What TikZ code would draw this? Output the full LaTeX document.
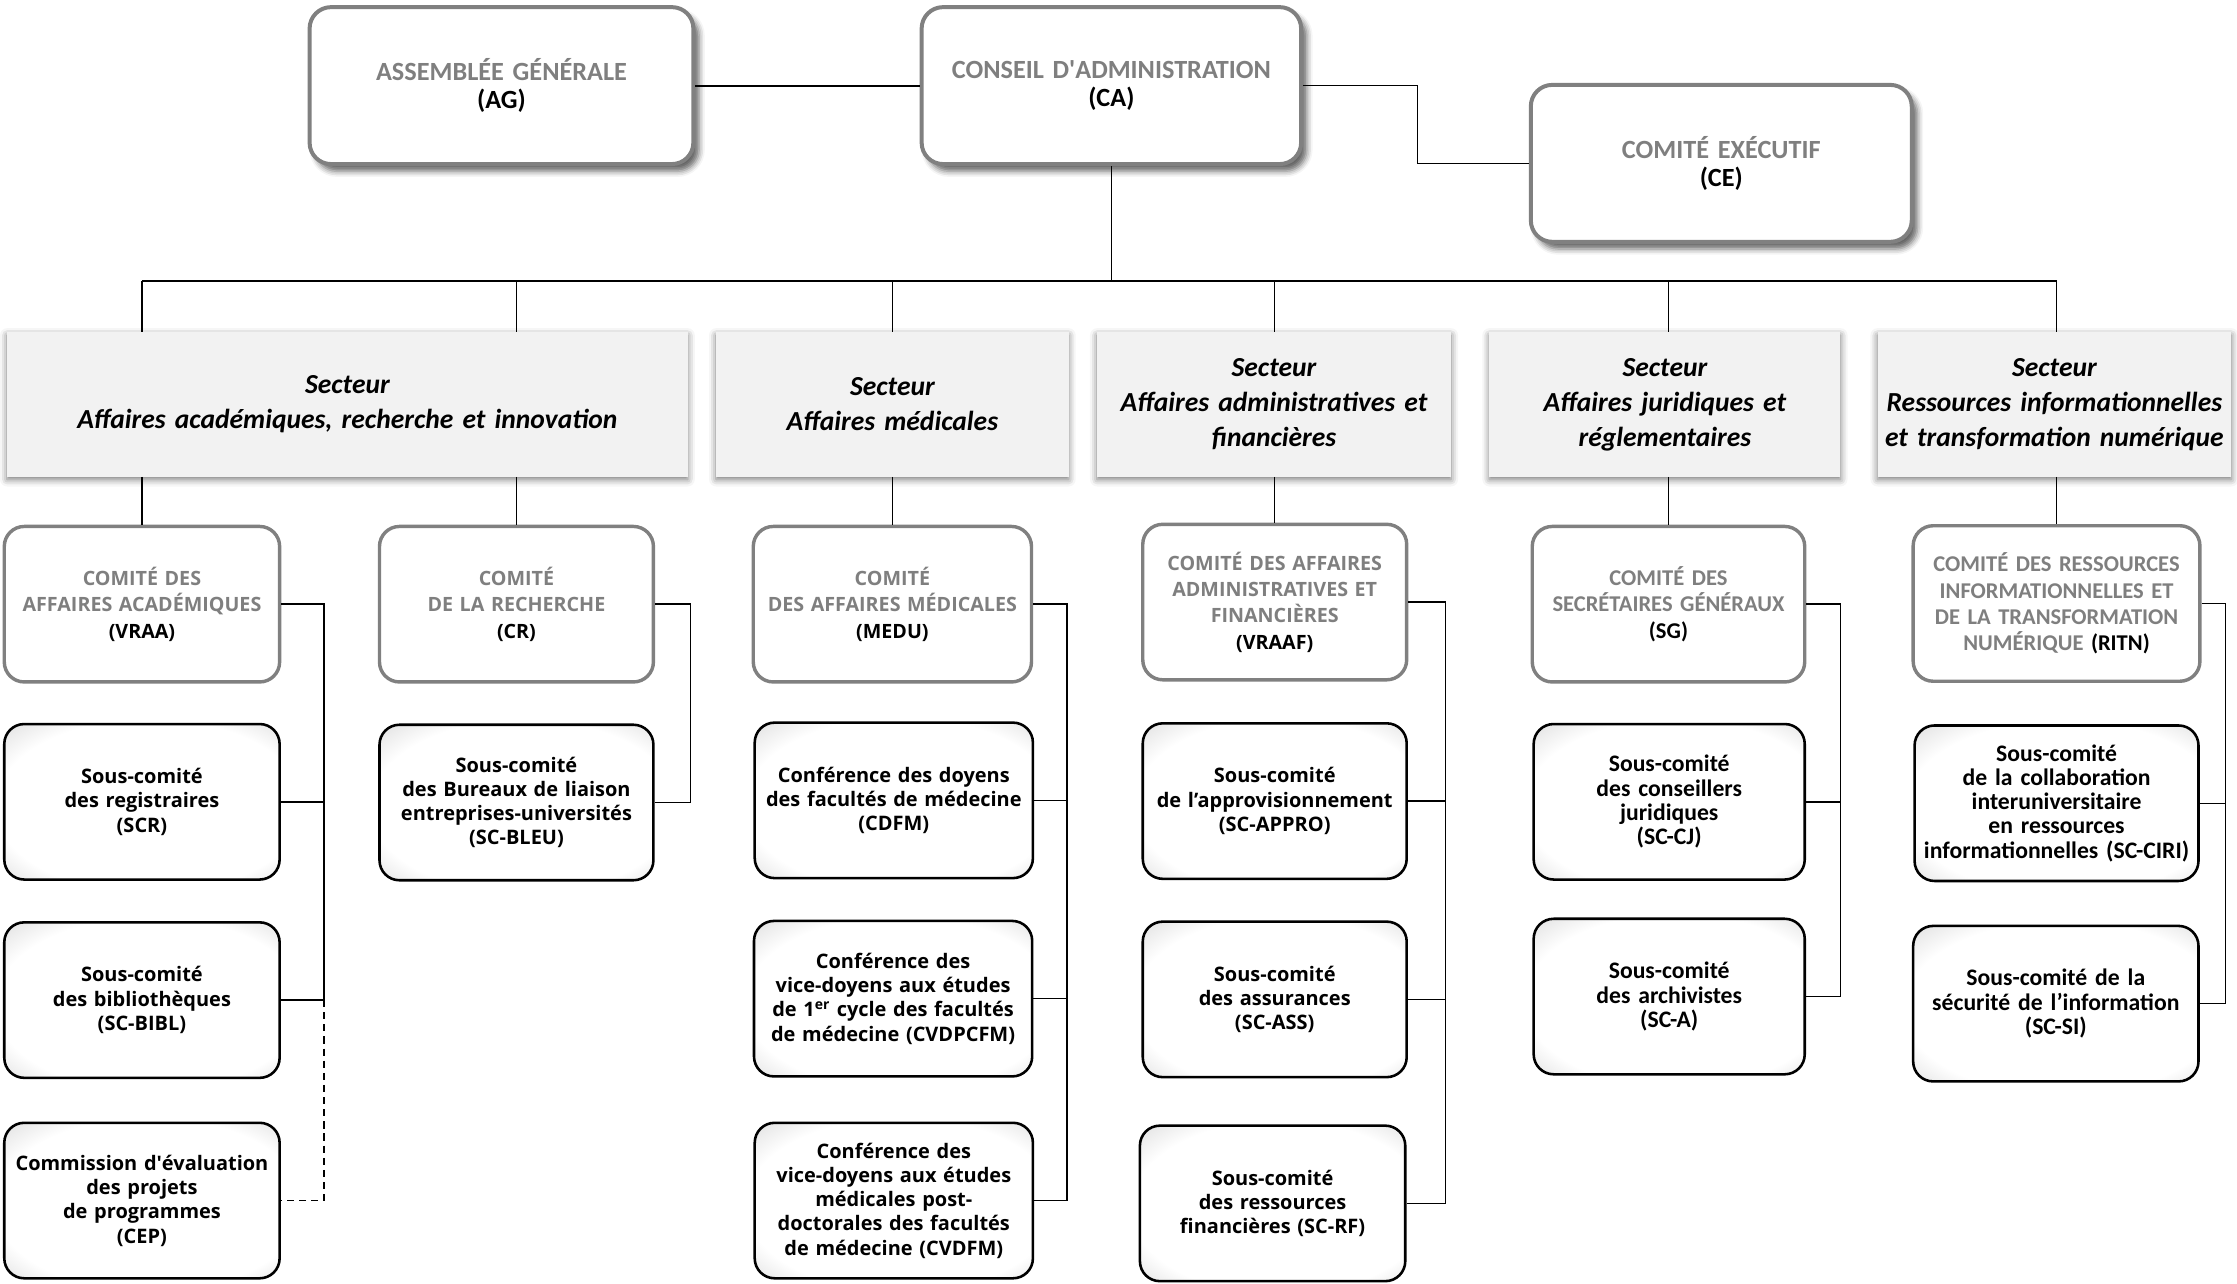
\documentclass[tikz,border=0pt]{standalone}
\usepackage{fontspec}
\setmainfont{Open Sans}
\newfontfamily\calibri{Carlito}
\usetikzlibrary{positioning,shadows.blur}

\definecolor{titlegray}{RGB}{127,127,127}
\definecolor{boxgray}{RGB}{128,128,128}
\definecolor{secfill}{RGB}{242,242,242}
\pgfdeclareradialshading{subglow}{\pgfpoint{3bp}{-3bp}}{color(0bp)=(white); color(28bp)=(white); color(50bp)=(black!30)}

\newcommand\abbr[1]{\textcolor{black}{#1}}
\newcommand\topfont{\calibri\bfseries\fontsize{18.4}{19.5}\selectfont}
\newcommand\secfont{\calibri\bfseries\itshape\fontsize{19.3}{24.5}\selectfont}
\newcommand\comfont{\bfseries\fontsize{13.8}{18.5}\selectfont}
\newcommand\comcalfont{\calibri\bfseries\fontsize{15.8}{18.5}\selectfont}
\newcommand\subfont{\bfseries\fontsize{14}{17}\selectfont}
\newcommand\subcalfont{\calibri\bfseries\fontsize{16.6}{17}\selectfont}

\tikzset{
  instance/.style={rectangle, draw=boxgray, line width=2.8pt, rounded corners=15pt,
    fill=white, text=titlegray, font=\topfont, align=center, inner sep=0pt,
    text width=#1, minimum width=#1, minimum height=110pt,
    blur shadow={shadow xshift=4pt, shadow yshift=-5pt, shadow blur radius=4pt, shadow opacity=60}},
  secteur/.style={rectangle, fill=secfill, font=\secfont, align=center, inner sep=0pt,
    text width=#1, minimum width=#1, minimum height=101pt,
    blur shadow={shadow xshift=0pt, shadow yshift=-2pt, shadow blur radius=5pt, shadow opacity=55}},
  comite/.style={rectangle, draw=boxgray, line width=2.4pt, rounded corners=14pt,
    fill=white, text=titlegray, font=\comfont, align=center, inner sep=0pt,
    text width=#1, minimum width=#1, minimum height=109pt},
  comitecal/.style={comite=#1, font=\comcalfont},
  souscomite/.style={rectangle, draw=black, line width=1.8pt, rounded corners=14pt,
    shading=subglow, font=\subfont, align=center, inner sep=0pt,
    text width=#1, minimum width=#1, minimum height=109pt},
  souscal/.style={souscomite=#1, font=\subcalfont},
  link/.style={line width=1pt}
}

\begin{document}
\begin{tikzpicture}[x=1pt,y=-1pt]
\useasboundingbox (0,0) rectangle (1568,900);

% instances
\node[instance=269pt] (ag) at (351.5,60) {ASSEMBLÉE GÉNÉRALE\\\abbr{(AG)}};
\node[instance=266pt] (ca) at (779,60) {CONSEIL D{\textquotesingle}ADMINISTRATION\\\abbr{(CA)}};
\node[instance=267pt] (ce) at (1206.5,114.5) {COMITÉ EXÉCUTIF\\\abbr{(CE)}};

% secteurs
\node[secteur=477pt] (aari) at (243.5,283.5) {Secteur\\Affaires académiques, recherche et innovation};
\node[secteur=247pt] (am) at (625.5,283.5) {Secteur\\Affaires médicales};
\node[secteur=248pt] (aaf) at (893,283.5) {Secteur\\Affaires administratives et\\financières};
\node[secteur=246pt] (ajr) at (1167,283.5) {Secteur\\Affaires juridiques et\\réglementaires};
\node[secteur=248pt] (ritns) at (1440,283.5) {Secteur\\Ressources informationnelles\\et transformation numérique};

% comites
\node[comite=193pt] (vraa) at (99.5,423.5) {COMITÉ DES\\AFFAIRES ACADÉMIQUES\\\abbr{(VRAA)}};
\node[comite=192pt] (cr) at (362,423.5) {COMITÉ\\DE LA RECHERCHE\\\abbr{(CR)}};
\node[comite=195pt] (medu) at (625.5,423.5) {COMITÉ\\DES AFFAIRES MÉDICALES\\\abbr{(MEDU)}};
\node[comite=185pt] (vraaf) at (893.5,422) {COMITÉ DES AFFAIRES\\ADMINISTRATIVES ET\\FINANCIÈRES\\\abbr{(VRAAF)}};
\node[comitecal=191pt] (sg) at (1169.5,423.5) {COMITÉ DES\\SECRÉTAIRES GÉNÉRAUX\\\abbr{(SG)}};
\node[comitecal=201pt] (ritn) at (1441.5,423) {COMITÉ DES RESSOURCES\\INFORMATIONNELLES ET\\DE LA TRANSFORMATION\\NUMÉRIQUE \abbr{(RITN)}};

% sous-comites
\node[souscomite=193pt] (scr) at (99.5,562) {Sous-comité\\des registraires\\(SCR)};
\node[souscomite=193pt] (scbibl) at (99.5,701) {Sous-comité\\des bibliothèques\\(SC-BIBL)};
\node[souscomite=193pt] (cep) at (99.5,841.5) {Commission d{\textquotesingle}évaluation\\des projets\\de programmes\\(CEP)};
\node[souscomite=192pt] (scbleu) at (362,562.5) {Sous-comité\\des Bureaux de liaison\\entreprises-universités\\(SC-BLEU)};
\node[souscomite=195pt] (cdfm) at (626.5,561) {Conférence des doyens\\des facultés de médecine\\(CDFM)};
\node[souscomite=195pt] (cvdpcfm) at (626,700) {Conférence des\\vice-doyens aux études\\de 1\textsuperscript{er} cycle des facultés\\de médecine (CVDPCFM)};
\node[souscomite=195pt] (cvdfm) at (626.5,841.5) {Conférence des\\vice-doyens aux études\\médicales post-\\doctorales des facultés\\de médecine (CVDFM)};
\node[souscomite=185pt] (scappro) at (893.5,561.5) {Sous-comité\\de l’approvisionnement\\(SC-APPRO)};
\node[souscomite=185pt] (scass) at (893.5,700.5) {Sous-comité\\des assurances\\(SC-ASS)};
\node[souscomite=186pt] (scrf) at (892,843.5) {Sous-comité\\des ressources\\financières (SC-RF)};
\node[souscal=190pt] (sccj) at (1170,562) {Sous-comité\\des conseillers\\juridiques\\(SC-CJ)};
\node[souscal=190pt] (sca) at (1170,698.5) {Sous-comité\\des archivistes\\(SC-A)};
\node[souscal=199pt] (scciri) at (1441.5,563) {Sous-comité\\de la collaboration\\interuniversitaire\\en ressources\\informationnelles (SC-CIRI)};
\node[souscal=200pt] (scsi) at (1441,703.5) {Sous-comité de la\\sécurité de l’information\\(SC-SI)};

% liens du haut
\coordinate (bus) at (0,197);
\draw[link, line width=1.5pt] (ag) -- (ca);
\draw[link] (ca.east) -- ++(80,0) |- (ce);
\draw[link] (ca) -- (ca |- bus);
\draw[link] (vraa |- bus) -- (ritn |- bus);
\foreach \c/\s in {vraa/aari, cr/aari, medu/am, vraaf/aaf, sg/ajr, ritn/ritns}{
  \draw[link] (\c |- bus) -- (\c |- \s.north);
  \draw[link] (\c |- \s.south) -- (\c);
}

% liens des comites
\foreach \c/\last/\x in {vraa/scbibl/227, cr/scbleu/484, medu/cvdfm/748, vraaf/scrf/1013, sg/sca/1290, ritn/scsi/1560}{
  \coordinate (\c-spine) at (\x,0);
  \draw[link] (\c.east) -- (\c.east -| \c-spine) -- (\last.east -| \c-spine) -- (\last.east);
}
\foreach \s/\c in {scr/vraa, cdfm/medu, cvdpcfm/medu, scappro/vraaf, scass/vraaf, sccj/sg, scciri/ritn}
  \draw[link] (\s.east) -- (\s.east -| \c-spine);
\draw[link, dash pattern=on 5pt off 3.5pt] (scbibl.east -| vraa-spine) |- (cep.east);

\end{tikzpicture}
\end{document}
